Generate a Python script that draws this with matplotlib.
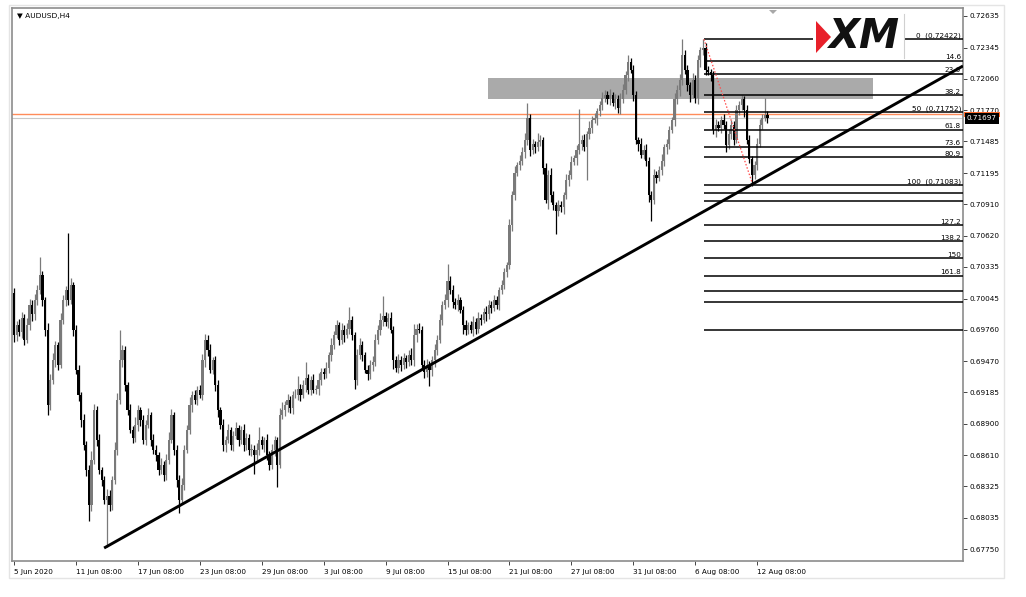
import matplotlib
matplotlib.use('Agg')
import matplotlib.pyplot as plt
import matplotlib.transforms as mtransforms
from matplotlib.patches import Rectangle, Polygon
import numpy as np

# AUDUSD H4 candles, prices in pips (x 0.0001), open of each bar = previous close
first_open = 7010
closes = [
    6971, 6980, 6974, 6987, 6967, 6980, 6999, 6990, 7003, 7012,
    7026, 7003, 6976, 6907, 6930, 6948, 6962, 6944, 6985, 7003,
    7012, 7003, 7017, 6976, 6939, 6916, 6893, 6870, 6847, 6815,
    6857, 6902, 6875, 6847, 6838, 6820, 6824, 6815, 6838, 6866,
    6912, 6948, 6957, 6925, 6902, 6884, 6877, 6889, 6902, 6893,
    6875, 6889, 6898, 6875, 6866, 6861, 6847, 6852, 6843, 6857,
    6875, 6898, 6866, 6838, 6820, 6834, 6866, 6884, 6907, 6916,
    6912, 6921, 6916, 6948, 6967, 6957, 6939, 6948, 6925, 6902,
    6889, 6870, 6875, 6884, 6870, 6879, 6886, 6875, 6884, 6870,
    6877, 6866, 6866, 6861, 6866, 6875, 6870, 6875, 6861, 6852,
    6866, 6875, 6852, 6898, 6902, 6907, 6912, 6904, 6916, 6916,
    6922, 6916, 6925, 6932, 6921, 6930, 6921, 6922, 6930, 6937,
    6935, 6941, 6953, 6962, 6971, 6980, 6967, 6976, 6971, 6977,
    6985, 6971, 6930, 6953, 6962, 6953, 6939, 6935, 6944, 6946,
    6967, 6976, 6985, 6989, 6983, 6987, 6976, 6948, 6941, 6948,
    6944, 6950, 6946, 6953, 6948, 6971, 6977, 6976, 6944, 6937,
    6944, 6939, 6948, 6957, 6967, 6985, 6999, 7003, 7021, 7012,
    7001, 6999, 7003, 6994, 6980, 6976, 6980, 6976, 6983, 6977,
    6987, 6985, 6992, 6990, 6999, 6996, 7003, 6999, 7012, 7017,
    7029, 7035, 7072, 7099, 7120, 7127, 7131, 7139, 7150, 7170,
    7141, 7146, 7143, 7148, 7150, 7124, 7095, 7118, 7099, 7090,
    7085, 7090, 7088, 7099, 7113, 7118, 7130, 7133, 7141, 7146,
    7150, 7143, 7155, 7161, 7168, 7170, 7176, 7182, 7188, 7191,
    7187, 7191, 7184, 7187, 7179, 7187, 7196, 7209, 7221, 7214,
    7191, 7150, 7146, 7136, 7141, 7131, 7099, 7095, 7118, 7115,
    7122, 7131, 7143, 7146, 7159, 7168, 7187, 7196, 7205, 7228,
    7214, 7200, 7191, 7205, 7188, 7223, 7232, 7234, 7214, 7212,
    7209, 7159, 7164, 7161, 7168, 7164, 7145, 7155, 7164, 7150,
    7177, 7182, 7187, 7177, 7150, 7132, 7118, 7127, 7146, 7164,
    7170, 7173, 7170,
]
# wick lengths above / below the body, pips
wick_up = [
    4, 4, 6, 5, 3, 7, 5, 4, 6, 5,
    17, 4, 3, 6, 5, 7, 4, 3, 6, 5,
    4, 53, 6, 3, 4, 5, 3, 6, 4, 5,
    8, 6, 4, 5, 3, 4, 6, 5, 4, 7,
    6, 28, 5, 4, 3, 6, 4, 7, 5, 3,
    5, 4, 6, 3, 5, 4, 3, 6, 4, 5,
    7, 5, 3, 4, 5, 6, 4, 5, 7, 4,
    5, 3, 4, 6, 5, 4, 6, 3, 4, 5,
    3, 5, 4, 6, 3, 4, 5, 3, 4, 6,
    4, 3, 5, 4, 6, 12, 4, 3, 5, 4,
    5, 4, 3, 6, 8, 4, 5, 3, 4, 6,
    12, 4, 5, 14, 3, 4, 5, 3, 6, 4,
    4, 5, 3, 6, 4, 5, 3, 6, 4, 5,
    12, 4, 3, 5, 6, 4, 3, 5, 4, 6,
    5, 4, 6, 18, 3, 4, 5, 3, 4, 6,
    4, 5, 3, 4, 6, 10, 4, 5, 3, 4,
    5, 3, 4, 6, 4, 5, 3, 6, 15, 4,
    5, 4, 6, 3, 4, 5, 3, 4, 6, 4,
    5, 3, 4, 6, 4, 3, 5, 4, 3, 5,
    4, 3, 5, 4, 6, 3, 5, 4, 6, 14,
    4, 5, 3, 8, 4, 3, 5, 4, 6, 4,
    3, 5, 4, 3, 6, 4, 5, 3, 4, 32,
    4, 5, 3, 6, 4, 5, 3, 4, 6, 5,
    4, 6, 3, 5, 4, 6, 5, 4, 7, 4,
    5, 4, 3, 6, 4, 5, 3, 4, 5, 3,
    4, 6, 3, 5, 4, 3, 6, 4, 5, 14,
    4, 5, 3, 6, 4, 5, 3, 8, 5, 4,
    3, 4, 5, 3, 4, 6, 3, 5, 4, 3,
    5, 4, 4, 3, 5, 4, 3, 4, 6, 5,
    4, 15, 3,
]
wick_dn = [
    6, 5, 4, 6, 5, 3, 4, 6, 5, 4,
    3, 5, 6, 9, 5, 4, 6, 5, 3, 4,
    5, 4, 3, 6, 4, 5, 6, 4, 5, 14,
    5, 4, 6, 3, 5, 4, 43, 5, 4, 3,
    5, 4, 6, 5, 4, 3, 5, 4, 6, 5,
    4, 5, 3, 6, 4, 5, 4, 3, 6, 5,
    4, 3, 5, 6, 12, 4, 5, 3, 4, 6,
    4, 5, 3, 4, 6, 5, 3, 4, 5, 6,
    4, 5, 6, 3, 4, 5, 3, 6, 4, 5,
    4, 5, 6, 17, 4, 5, 3, 6, 4, 5,
    4, 6, 20, 3, 4, 5, 6, 4, 5, 3,
    4, 5, 3, 6, 4, 5, 3, 4, 6, 5,
    4, 3, 5, 6, 4, 3, 5, 4, 6, 3,
    5, 4, 8, 5, 4, 6, 3, 5, 4, 6,
    3, 4, 5, 6, 4, 5, 3, 8, 4, 5,
    6, 4, 5, 3, 4, 5, 6, 3, 4, 5,
    4, 15, 5, 6, 4, 3, 5, 4, 6, 3,
    5, 4, 6, 3, 8, 5, 4, 3, 6, 5,
    4, 5, 3, 6, 4, 5, 3, 4, 5, 3,
    4, 5, 3, 6, 4, 3, 5, 4, 6, 5,
    6, 4, 5, 3, 4, 5, 3, 8, 6, 4,
    21, 5, 4, 6, 3, 5, 4, 3, 6, 4,
    5, 3, 30, 4, 5, 3, 6, 4, 5, 3,
    4, 5, 3, 6, 4, 5, 3, 4, 5, 3,
    5, 4, 6, 3, 4, 5, 6, 19, 4, 5,
    3, 4, 5, 6, 4, 3, 5, 4, 6, 5,
    4, 5, 6, 3, 4, 5, 6, 4, 5, 3,
    5, 4, 6, 3, 5, 4, 6, 3, 4, 5,
    3, 4, 5, 6, 4, 3, 10, 4, 5, 3,
    4, 3, 5,
]

price_ticks = [0.72635, 0.72345, 0.72060, 0.71770, 0.71485, 0.71195, 0.70910,
               0.70620, 0.70335, 0.70045, 0.69760, 0.69470, 0.69185, 0.68900,
               0.68610, 0.68325, 0.68035, 0.67750]
date_bars = [0, 24, 48, 72, 96, 120, 144, 168, 192, 216, 240, 264, 288]
date_labels = ['5 Jun 2020', '11 Jun 08:00', '17 Jun 08:00', '23 Jun 08:00',
               '29 Jun 08:00', '3 Jul 08:00', '9 Jul 08:00', '15 Jul 08:00',
               '21 Jul 08:00', '27 Jul 08:00', '31 Jul 08:00', '6 Aug 08:00',
               '12 Aug 08:00']

fib_high, fib_low = 0.72422, 0.71083
fib_bars = [267.4, 286.4]
fib_levels = [0, 14.6, 23.6, 38.2, 50, 61.8, 73.6, 80.9, 100, 105.3, 110.7,
              127.2, 138.2, 150, 161.8, 172.4, 180, 199]
fib_labels = ['0  (0.72422)', '14.6', '23.6', '38.2', '50  (0.71752)', '61.8',
              '73.6', '80.9', '100  (0.71083)', '', '', '127.2', '138.2', '150',
              '161.8', '', '', '']

trend_bars = [34.9, 367.8]
trend_prices = [0.67759, 0.72177]
zone_bars = [183.7, 333.0]
zone_prices = [0.71875, 0.72067]
bid, ask = 0.71697, 0.71735

W, H = 1026, 597
fig = plt.figure(figsize=(W / 100, H / 100), dpi=100)
fig.patch.set_facecolor('white')


def fx(x):
    return x / W


def fy(y):
    return 1 - y / H


ax = fig.add_axes([fx(12), fy(561), (963 - 12) / W, (561 - 8) / H])
ax.set_xlim(-0.8, 367.8)
ax.set_ylim(0.676401, 0.727083)

# candles
n = len(closes)
idx = np.arange(n)
c = np.array(closes) / 10000
o = np.concatenate([[first_open / 10000], c[:-1]])
hi = np.maximum(o, c) + np.array(wick_up) / 10000
lo = np.minimum(o, c) - np.array(wick_dn) / 10000
colors = np.where(c >= o, '#7a7a7a', '#000000')
ax.vlines(idx, lo, hi, colors=colors, lw=0.9, zorder=3)
body = np.maximum(np.abs(c - o), 0.00004)
ax.bar(idx, body, bottom=np.minimum(o, c), width=0.85, color=colors, lw=0, zorder=3)

# resistance zone
ax.add_patch(Rectangle((zone_bars[0], zone_prices[0]), zone_bars[1] - zone_bars[0],
                       zone_prices[1] - zone_prices[0], facecolor='#aaaaaa',
                       edgecolor='none', zorder=1))

# current price lines
ax.axhline(ask, color='#ff8c5a', lw=1.0, zorder=2)
ax.axhline(bid, color='#c8c8c8', lw=0.8, zorder=2)

# fibonacci
rng = fib_high - fib_low
fib_prices = [fib_high - lv / 100 * rng for lv in fib_levels]
ax.hlines(fib_prices, fib_bars[0], 367.8, color='black', lw=1.1, zorder=4)
for p, lab in zip(fib_prices, fib_labels):
    if lab:
        ax.text(367.0, p + 0.00003, lab, ha='right', va='bottom', fontsize=5.2,
                color='black', zorder=5)
ax.plot(fib_bars, [fib_high, fib_low], color='#ff4c4c', lw=0.9, ls=(0, (1.2, 1.5)),
        zorder=5)

# trend line
ax.plot(trend_bars, trend_prices, color='black', lw=2.1, zorder=6,
        solid_capstyle='butt')

# axes look
for s in ax.spines.values():
    s.set_color('#8c8c8c')
    s.set_linewidth(1.2)
ax.yaxis.tick_right()
ax.set_yticks(price_ticks)
ax.set_yticklabels([f'{v:.5f}' for v in price_ticks])
ax.set_xticks(date_bars)
ax.set_xticklabels(date_labels)
for lbl in ax.get_xticklabels():
    lbl.set_ha('left')
ax.tick_params(axis='both', direction='out', length=3, width=0.7, color='#444444',
               labelsize=5.2, pad=1.5)
ax.tick_params(axis='x', pad=2.5)

# ask marker strip (its label sits behind the bid box) and bid price box
blend = mtransforms.blended_transform_factory(ax.transAxes, ax.transData)
ax.add_patch(Rectangle((1.001, bid + 0.00012), 0.038, 0.00045, transform=blend,
                       facecolor='#ff6a2a', edgecolor='none', clip_on=False,
                       zorder=9))
ax.text(1.004, bid, '0.71697', transform=blend, fontsize=5.2, color='white',
        va='center', ha='left', clip_on=False, zorder=10,
        bbox=dict(boxstyle='square,pad=0.3', fc='black', ec='none'))

# logo box
fig.add_artist(Rectangle((fx(813), fy(58)), fx(904) - fx(813), fy(14) - fy(58),
                         transform=fig.transFigure, facecolor='white',
                         edgecolor='none', zorder=20))
fig.add_artist(plt.Line2D([fx(904), fx(904)], [fy(14), fy(58)],
                          transform=fig.transFigure, color='#d0d0d0', lw=0.8,
                          zorder=21))
fig.add_artist(Polygon([(fx(816), fy(21)), (fx(816), fy(53)), (fx(831), fy(37))],
                       closed=True, transform=fig.transFigure, facecolor='#e8202a',
                       edgecolor='none', zorder=22))
fig.text(fx(864), fy(37), 'XM', fontsize=29, fontweight='heavy', fontstyle='italic',
         ha='center', va='center', color='#111111', zorder=22)

# chart title and shift marker
fig.text(fx(17), fy(16), '\u25bc AUDUSD,H4', fontsize=5.4, va='center', ha='left',
         color='black')
fig.add_artist(Polygon([(fx(769), fy(10)), (fx(777), fy(10)), (fx(773), fy(14))],
                       closed=True, transform=fig.transFigure, facecolor='#a8a8a8',
                       edgecolor='none'))

# outer frame
fig.add_artist(Rectangle((fx(9), fy(578)), fx(1004) - fx(9), fy(5) - fy(578),
                         transform=fig.transFigure, facecolor='none',
                         edgecolor='#e4e4e4', lw=1.0))

fig.savefig('out.png', dpi=100)
